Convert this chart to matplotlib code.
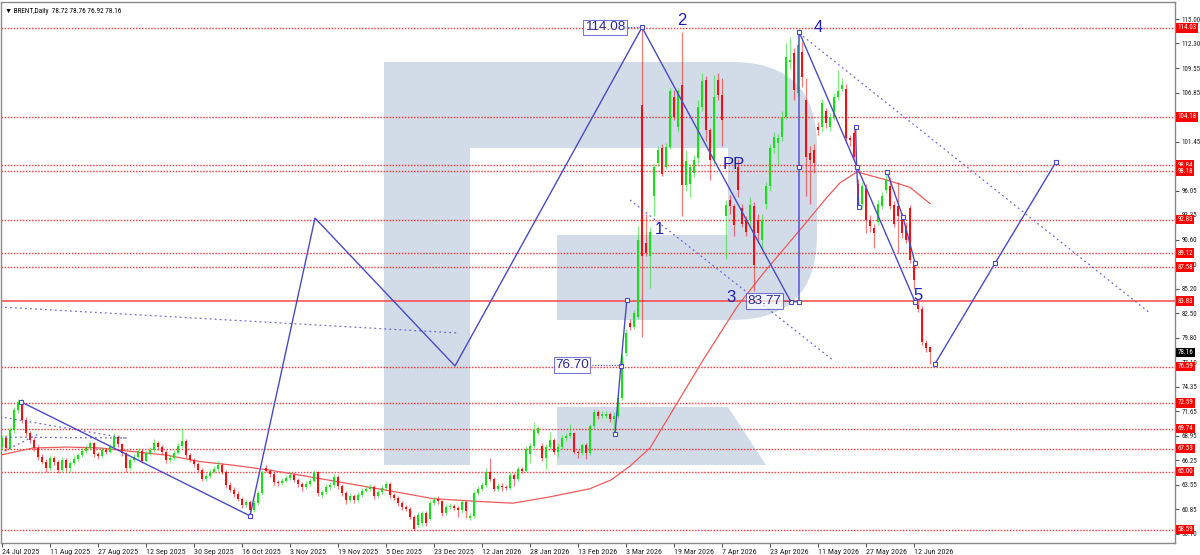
import numpy as np
import matplotlib
matplotlib.use('Agg')
import matplotlib.pyplot as plt
from matplotlib.patches import Rectangle, FancyBboxPatch, Polygon
import matplotlib.transforms as mtransforms

# ---------------- data (daily BRENT candles, bar index 0 = 24 Jul 2025) ----------------
opens = [
 67.7, 68.7, 67.6, 69.6, 71.8, 72.7, 70.7, 69.2, 68.5, 67.6,
 66.6, 66.1, 65.4, 66.5, 66.0, 65.2, 66.3, 65.4, 65.9, 66.4,
 66.8, 67.3, 67.6, 68.1, 66.9, 66.7, 67.4, 67.2, 67.7, 68.8,
 68.0, 67.0, 65.4, 66.3, 66.6, 67.3, 66.2, 67.0, 67.4, 68.2,
 67.7, 67.2, 66.3, 66.5, 67.1, 67.8, 68.4, 66.8, 66.3, 65.8,
 65.2, 64.2, 64.5, 65.0, 65.3, 65.7, 65.0, 63.5, 63.0, 62.5,
 62.0, 61.3, 61.6, 60.7, 61.5, 62.6, 65.4, 65.1, 64.7, 63.8,
 63.7, 64.0, 64.3, 64.6, 64.1, 63.6, 63.3, 63.6, 64.0, 64.9,
 62.4, 62.7, 63.3, 63.5, 64.4, 63.4, 62.6, 61.8, 62.3, 61.8,
 62.4, 62.9, 63.1, 63.3, 62.3, 62.7, 63.2, 63.6, 62.4, 62.1,
 61.5, 61.1, 60.9, 60.0, 59.1, 59.3, 60.4, 59.8, 61.5, 62.0,
 61.7, 60.4, 61.1, 61.2, 61.0, 60.7, 61.6, 59.9, 60.1, 62.6,
 63.1, 63.5, 65.0, 64.2, 63.1, 63.4, 63.3, 63.2, 64.6, 64.2,
 65.3, 65.1, 66.9, 67.8, 69.3, 67.8, 66.5, 67.7, 68.5, 67.2,
 67.7, 68.7, 68.9, 69.2, 67.2, 67.0, 67.9, 67.0, 70.0, 71.6,
 71.1, 71.1, 71.4, 70.8, 71.1, 73.1, 78.1, 81.4, 81.0, 82.1,
 105.5, 90.2, 88.8, 95.4, 99.1, 100.7, 98.7, 100.9, 106.4, 103.1,
 107.7, 96.7, 96.8, 98.0, 99.6, 105.3, 108.3, 102.7, 99.4, 108.3,
 106.6, 93.2, 95.0, 94.3, 98.7, 94.1, 92.8, 92.8, 94.3, 92.8,
 90.6, 94.6, 96.5, 100.7, 101.3, 102.0, 104.2, 110.3, 111.2, 106.8,
 111.4, 106.0, 100.2, 100.5, 103.1, 103.1, 104.8, 103.1, 104.2, 106.4,
 107.3, 107.3, 101.8, 102.4, 96.8, 94.6, 96.3, 92.8, 91.9, 92.6,
 94.3, 96.1, 96.5, 94.4, 94.3, 93.2, 92.1, 94.1, 88.0, 83.4,
 83.0, 79.2, 78.72]
highs = [
 69.0, 69.0, 69.9, 72.1, 73.0, 73.0, 71.0, 69.5, 68.8, 67.9,
 66.9, 66.4, 66.8, 66.7, 66.3, 66.6, 66.5, 66.2, 66.7, 67.1,
 67.6, 67.9, 68.4, 68.3, 67.2, 67.7, 67.6, 68.0, 69.2, 69.0,
 68.2, 67.2, 66.5, 66.9, 67.6, 67.5, 67.3, 67.7, 68.6, 68.4,
 67.9, 67.4, 66.8, 67.4, 68.1, 69.8, 68.6, 67.0, 66.5, 66.0,
 65.4, 64.8, 65.3, 65.6, 66.2, 65.9, 65.2, 63.8, 63.3, 62.8,
 62.2, 61.9, 61.8, 61.8, 62.9, 65.2, 65.7, 65.3, 64.9, 64.1,
 64.3, 64.6, 65.0, 64.8, 64.3, 63.8, 63.9, 64.3, 65.2, 65.1,
 63.0, 63.6, 63.8, 64.7, 64.6, 63.6, 62.8, 62.6, 62.5, 62.7,
 63.2, 63.4, 63.6, 63.5, 63.0, 63.5, 64.0, 63.8, 62.6, 62.3,
 61.7, 61.3, 61.1, 60.2, 60.5, 60.6, 60.6, 61.8, 62.2, 62.3,
 61.9, 61.4, 61.5, 61.4, 61.2, 61.9, 61.8, 60.4, 62.9, 63.4,
 63.8, 65.4, 66.5, 64.4, 63.7, 63.7, 63.5, 64.9, 64.8, 65.6,
 65.5, 67.8, 68.1, 70.5, 70.0, 68.1, 68.0, 69.4, 68.7, 68.1,
 69.0, 69.2, 70.3, 69.4, 67.4, 68.2, 68.1, 70.2, 71.9, 71.8,
 71.7, 71.7, 71.6, 71.6, 73.4, 78.1, 80.8, 81.8, 82.8, 92.1,
 114.08, 93.5, 92.0, 99.0, 101.0, 101.2, 101.3, 107.4, 107.2, 107.4,
 113.6, 100.5, 99.0, 100.0, 106.0, 109.0, 108.7, 103.0, 108.8, 109.0,
 108.5, 95.0, 95.6, 94.6, 99.5, 94.6, 93.2, 95.3, 94.8, 93.5,
 93.5, 97.0, 101.2, 102.5, 102.3, 104.8, 112.3, 113.0, 111.8, 113.9,
 112.5, 108.5, 101.0, 101.2, 103.6, 106.2, 105.2, 104.6, 106.8, 109.4,
 108.5, 107.8, 102.2, 102.9, 97.3, 97.0, 96.8, 93.3, 92.4, 95.0,
 95.9, 98.1, 97.5, 94.9, 97.0, 93.6, 92.6, 94.5, 88.4, 83.8,
 83.3, 79.5, 78.76]
lows = [
 67.4, 67.3, 67.4, 69.3, 71.5, 70.4, 68.9, 68.2, 67.3, 66.3,
 65.8, 65.0, 65.2, 65.7, 64.8, 65.0, 65.1, 65.0, 65.7, 66.2,
 66.6, 67.1, 67.4, 66.6, 66.4, 66.5, 66.9, 67.0, 67.5, 67.7,
 66.7, 65.0, 65.2, 66.1, 66.4, 65.9, 66.0, 66.8, 67.2, 67.4,
 66.9, 65.9, 66.0, 66.3, 66.9, 67.6, 66.5, 66.0, 65.5, 64.9,
 63.9, 64.0, 64.3, 64.8, 65.1, 64.7, 63.2, 62.7, 62.2, 61.7,
 61.0, 61.1, 60.2, 60.5, 61.3, 62.4, 64.9, 64.4, 63.5, 63.4,
 63.5, 63.8, 64.1, 63.8, 63.3, 62.8, 63.1, 63.4, 63.8, 62.3,
 62.1, 62.5, 63.0, 63.3, 63.1, 62.3, 61.4, 61.6, 61.5, 61.6,
 62.2, 62.7, 62.9, 62.0, 62.1, 62.5, 63.0, 62.1, 61.8, 61.2,
 60.8, 60.6, 59.7, 58.5, 58.9, 59.0, 59.0, 59.6, 61.3, 61.4,
 60.1, 60.2, 60.9, 60.7, 60.0, 60.4, 59.9, 59.6, 59.9, 62.4,
 62.9, 63.3, 63.9, 62.8, 62.9, 62.8, 63.0, 63.0, 63.4, 64.0,
 64.8, 64.9, 65.9, 67.6, 69.0, 66.2, 65.3, 67.5, 66.9, 66.6,
 67.5, 68.4, 68.7, 66.9, 66.5, 66.8, 66.4, 66.8, 69.8, 70.8,
 70.9, 70.9, 70.5, 69.2, 70.9, 72.9, 77.8, 80.6, 80.8, 81.9,
 79.9, 88.8, 85.3, 93.2, 98.8, 97.6, 98.4, 100.6, 103.8, 102.5,
 93.2, 96.0, 95.3, 97.5, 99.0, 104.8, 101.5, 97.2, 99.0, 106.0,
 101.0, 88.5, 93.5, 91.0, 95.3, 92.0, 91.0, 92.0, 85.0, 90.3,
 89.5, 94.0, 96.0, 100.2, 99.0, 101.5, 104.0, 109.5, 106.0, 106.5,
 107.5, 95.4, 94.6, 98.0, 102.2, 102.5, 103.0, 102.6, 103.8, 106.0,
 107.0, 101.3, 101.0, 99.5, 94.0, 94.0, 91.3, 91.5, 89.7, 92.2,
 94.0, 95.8, 94.0, 92.0, 89.1, 90.8, 90.2, 88.0, 85.2, 82.6,
 79.0, 78.2, 76.92]
closes = [
 68.7, 67.6, 69.6, 71.8, 72.7, 70.7, 69.2, 68.5, 67.6, 66.6,
 66.1, 65.4, 66.5, 66.0, 65.2, 66.3, 65.4, 65.9, 66.4, 66.8,
 67.3, 67.6, 68.1, 66.9, 66.7, 67.4, 67.2, 67.7, 68.8, 68.0,
 67.0, 65.4, 66.3, 66.6, 67.3, 66.2, 67.0, 67.4, 68.2, 67.7,
 67.2, 66.3, 66.5, 67.1, 67.8, 68.4, 66.8, 66.3, 65.8, 65.2,
 64.2, 64.5, 65.0, 65.3, 65.7, 65.0, 63.5, 63.0, 62.5, 62.0,
 61.3, 61.6, 60.7, 61.5, 62.6, 64.9, 65.1, 64.7, 63.8, 63.7,
 64.0, 64.3, 64.6, 64.1, 63.6, 63.3, 63.6, 64.0, 64.9, 62.6,
 62.7, 63.3, 63.5, 64.4, 63.4, 62.6, 61.8, 62.3, 61.8, 62.4,
 62.9, 63.1, 63.3, 62.3, 62.7, 63.2, 63.6, 62.4, 62.1, 61.5,
 61.1, 60.9, 60.0, 58.7, 60.2, 60.4, 59.3, 61.5, 61.9, 61.7,
 60.4, 61.1, 61.2, 61.0, 60.7, 61.6, 60.6, 60.1, 62.6, 63.1,
 63.5, 65.0, 64.2, 63.1, 63.4, 63.3, 63.2, 64.6, 64.2, 65.3,
 65.1, 67.5, 67.8, 69.6, 69.8, 66.5, 67.7, 68.5, 67.2, 67.7,
 68.7, 68.9, 69.2, 67.2, 67.0, 67.9, 67.0, 70.0, 71.6, 71.1,
 71.4, 71.4, 70.8, 71.1, 73.1, 77.8, 80.3, 81.0, 82.5, 90.6,
 88.8, 89.1, 91.5, 98.7, 100.5, 97.9, 100.9, 107.0, 104.2, 107.0,
 96.7, 99.3, 98.7, 99.4, 105.3, 108.1, 102.7, 99.4, 106.4, 106.6,
 103.8, 94.5, 94.3, 92.2, 96.1, 92.4, 91.5, 94.4, 87.8, 91.3,
 92.8, 96.5, 100.7, 102.0, 101.8, 104.2, 110.8, 110.5, 107.2, 112.1,
 108.6, 99.8, 99.4, 99.1, 102.7, 105.7, 103.5, 104.2, 106.4, 107.0,
 107.7, 101.8, 101.6, 99.8, 94.3, 96.5, 92.8, 92.1, 91.3, 94.6,
 95.4, 97.2, 94.3, 92.4, 93.2, 91.3, 90.6, 88.4, 86.2, 83.0,
 79.3, 78.6, 78.16]

date_labels = ['24 Jul 2025', '11 Aug 2025', '27 Aug 2025', '12 Sep 2025', '30 Sep 2025',
               '16 Oct 2025', '3 Nov 2025', '19 Nov 2025', '5 Dec 2025', '23 Dec 2025',
               '12 Jan 2026', '28 Jan 2026', '13 Feb 2026', '3 Mar 2026', '19 Mar 2026',
               '7 Apr 2026', '23 Apr 2026', '11 May 2026', '27 May 2026', '12 Jun 2026']
date_label_bars = [0, 12, 24, 36, 48, 60, 72, 84, 96, 108, 120, 132, 144, 156, 168, 180, 192, 204, 216, 228]

price_ticks = [115.00, 112.30, 109.55, 106.85, 104.10, 101.45, 98.70, 96.05, 93.35, 90.60, 87.90,
               85.20, 82.50, 79.80, 77.10, 74.35, 71.65, 68.95, 66.25, 63.55, 60.85, 58.10]
hidden_tick_labels = [104.10, 98.70]   # fully covered by level labels in the reference
levels = [114.03, 104.18, 98.84, 98.18, 92.83, 89.12, 87.58, 83.83, 76.59, 72.59, 69.74, 67.53, 65.00, 58.59]
last_price = 78.16
header = '\u25BC BRENT,Daily  78.72 78.76 76.92 78.16'

# moving average
ma_bars = [-0.5, 7.75, 16.25, 24.5, 32.75, 41.25, 49.5, 57.75, 66.25, 74.5, 95.25, 107.75, 118.75,
           127.75, 137, 147, 152.4, 157, 162, 175.25, 183.75, 190.5, 199.5, 206.25, 209.5, 213.75,
           221.25, 227, 232]
ma_vals = [66.8, 67.6, 67.7, 67.6, 67.2, 66.8, 66.1, 65.7, 65.2, 64.6, 63.0, 62.0, 61.7,
           61.5, 62.2, 63.1, 64.1, 65.6, 67.6, 77.3, 83.2, 87.0, 91.7, 95.3, 96.9, 98.1,
           97.2, 96.4, 94.6]

# wave / analysis lines (bar index, price)
waveA_bars = [4.75, 62]
waveA_prices = [72.7, 60.1]
zz_bars = [62, 78.25, 113.25, 160, 197.2, 199.25, 199.25, 228.25]
zz_prices = [60.1, 93.0, 76.66, 114.08, 83.77, 83.77, 113.6, 83.77]
leg_bars = [153.25, 154.7, 156.2]
leg_prices = [69.1, 76.66, 83.9]
proj_bars = [233.25, 248.25, 263.5]
proj_prices = [76.9, 88.0, 99.2]
sub1_bars = [213.4, 213.65, 214.2]
sub1_prices = [103.1, 98.7, 94.26]
sub2_bars = [221.25, 225.2, 228.25]
sub2_prices = [98.13, 93.15, 88.07]
dotted_lines = [
    ([-0.5, 114.0], [83.18, 80.3]),
    ([157.0, 207.75], [95.0, 77.3]),
    ([199.25, 287.0], [113.45, 82.5]),
    ([-0.5, 31.2], [71.05, 68.66]),
    ([-0.5, 31.2], [68.8, 68.7]),
    ([-0.5, 9.5], [67.0, 69.25]),
]
wave_labels = ['1', '2', '3', '4', '5', 'PP']
wave_label_bars = [164.25, 170.0, 182.25, 204.0, 229.0, 183.0]
wave_label_prices = [91.7, 114.8, 84.2, 114.1, 84.5, 98.9]
box_labels = ['114.08', '83.77', '76.70']
box_bars = [150.7, 190.6, 142.5]
box_prices = [114.1, 83.83, 76.77]
box_target_bars = [160.0, 197.2, 154.7]

# ---------------- styling ----------------
GREEN = '#18E018'
RED = '#F41010'
BLUE = '#4A4AC8'
TXTBLUE = '#1E1EB4'
WM = '#D2DCE8'
SMALL = ['Liberation Sans Narrow', 'Roboto Condensed', 'DejaVu Sans Condensed', 'Liberation Sans', 'DejaVu Sans']
ARIAL = ['Liberation Sans', 'DejaVu Sans']

fig = plt.figure(figsize=(12, 5.55), dpi=100)
renderer = fig.canvas.get_renderer()


def fit_size(sample, target_px, family, base=10.0):
    t = fig.text(0, 0, sample, fontsize=base, family=family)
    w = t.get_window_extent(renderer=renderer).width
    t.remove()
    return base * target_px / w


FS_DATE = fit_size('24 Jul 2025', 37, SMALL)
FS_PRICE = fit_size('115.00', 19, SMALL)
FS_HEAD = fit_size(header, 116, SMALL)
FS_BOX = fit_size('114.08', 40, ARIAL)

# background layer in pixel coordinates (watermark)
bg = fig.add_axes([0, 0, 1, 1])
bg.set_xlim(0, 1200)
bg.set_ylim(555, 0)
bg.axis('off')
bg.set_zorder(0)
bg.add_patch(FancyBboxPatch((384, 62), 817 - 384, 320 - 62,
                            boxstyle='round,pad=0,rounding_size=85', fc=WM, ec='none'))
bg.add_patch(Rectangle((384, 62), 86, 465 - 62, fc=WM, ec='none'))
bg.add_patch(Rectangle((470, 148), 728 - 470, 235 - 148, fc='white', ec='none'))
bg.add_patch(Rectangle((470, 235), 557 - 470, 320 - 235 + 1, fc='white', ec='none'))
bg.add_patch(Polygon([(557, 407), (728, 407), (766, 465), (557, 465)], closed=True, fc=WM, ec='none'))

ax = fig.add_axes([1 / 1200, 12 / 555, 1174 / 1200, 541 / 555])
ax.set_zorder(1)
ax.patch.set_alpha(0)
ax.set_xlim(-0.25, 293.25)
ax.set_ylim(57.10, 116.88)

# header
ax.text(0.0035, 0.988, header, transform=ax.transAxes, fontsize=FS_HEAD, family=SMALL,
        va='top', ha='left', color='black', zorder=12)

# horizontal levels
for lv in levels:
    if abs(lv - 83.83) < 1e-6:
        ax.axhline(lv, color='#FF3030', lw=1.3, alpha=0.75, zorder=2)
    else:
        ax.axhline(lv, color='#FF2020', lw=1.0, ls=(0, (1.1, 1.1)), alpha=0.85, zorder=2)

# moving average
ax.plot(ma_bars, ma_vals, color='#F05A5A', lw=0.9, zorder=3)

# candles
o = np.array(opens); h = np.array(highs); l = np.array(lows); c = np.array(closes)
idx = np.arange(len(c))
cols = np.where(c >= o, GREEN, RED)
ax.vlines(idx, l, h, colors=cols, lw=0.9, alpha=0.55, zorder=4)
ax.bar(idx, np.maximum(np.abs(c - o), 0.12), bottom=np.minimum(o, c), width=0.72,
       color=cols, linewidth=0, zorder=5)

# analysis lines
for xs, ys in dotted_lines:
    ax.plot(xs, ys, color=BLUE, lw=0.9, ls=(0, (1.5, 2.5)), alpha=0.8, zorder=6)
ax.plot(waveA_bars, waveA_prices, color=BLUE, lw=1.0, zorder=6)
ax.plot(zz_bars, zz_prices, color=BLUE, lw=1.0, zorder=6)
ax.plot(leg_bars, leg_prices, color=BLUE, lw=1.0, zorder=6)
ax.plot(proj_bars, proj_prices, color=BLUE, lw=1.0, zorder=6)
ax.plot(sub1_bars, sub1_prices, color=BLUE, lw=1.0, zorder=6)
ax.plot(sub2_bars, sub2_prices, color=BLUE, lw=1.0, zorder=6)
mk = dict(ls='none', marker='s', ms=3, mfc='white', mec=BLUE, mew=0.8, zorder=7)
ax.plot(waveA_bars, waveA_prices, **mk)
ax.plot([zz_bars[0], zz_bars[3], zz_bars[4], zz_bars[5], zz_bars[6], zz_bars[7], 199.25],
        [zz_prices[0], zz_prices[3], zz_prices[4], zz_prices[5], zz_prices[6], zz_prices[7], 98.7], **mk)
ax.plot(leg_bars, leg_prices, **mk)
ax.plot(proj_bars, proj_prices, **mk)
ax.plot(sub1_bars, sub1_prices, **mk)
ax.plot(sub2_bars, sub2_prices, **mk)

for t, xb, yp in zip(wave_labels, wave_label_bars, wave_label_prices):
    ax.text(xb, yp, t, fontsize=12, color=TXTBLUE, family=ARIAL,
            ha='center', va='center', zorder=9)

for t, xb, yp, xt in zip(box_labels, box_bars, box_prices, box_target_bars):
    ax.plot([xb + 5, xt], [yp, yp], color=BLUE, lw=0.8, ls=(0, (1, 1.5)), zorder=7)
    ax.text(xb, yp, t, fontsize=FS_BOX, color='#2A2A90', family=ARIAL,
            ha='center', va='center', zorder=9,
            bbox=dict(boxstyle='square,pad=0.12', fc='white', ec=BLUE, lw=0.8, alpha=0.75))

# axes styling
for sp in ax.spines.values():
    sp.set_color('#8A8A8A')
    sp.set_linewidth(1.0)
ax.yaxis.tick_right()
ax.set_yticks(price_ticks)
ax.set_yticklabels(['' if v in hidden_tick_labels else f'{v:.2f}' for v in price_ticks], family=SMALL)
ax.tick_params(axis='y', direction='out', length=3, width=0.8, pad=1.5, labelsize=FS_PRICE,
               color='#555555', labelcolor='#222222')
ax.set_xticks(date_label_bars)
ax.set_xticklabels(date_labels, ha='left', family=SMALL)
ax.tick_params(axis='x', direction='out', length=3, width=0.8, pad=1.5, labelsize=FS_DATE,
               color='#555555', labelcolor='#222222')

trans = mtransforms.blended_transform_factory(ax.transAxes, ax.transData)
for lv in levels:
    ax.text(1.0022, lv, f'{lv:.2f}', transform=trans, fontsize=FS_PRICE, family=SMALL, color='white',
            va='center', ha='left', clip_on=False, zorder=20,
            bbox=dict(boxstyle='square,pad=0.18', fc='#FF0000', ec='none'))
ax.text(1.0022, last_price, f'{last_price:.2f}', transform=trans, fontsize=FS_PRICE, family=SMALL,
        color='white', va='center', ha='left', clip_on=False, zorder=20,
        bbox=dict(boxstyle='square,pad=0.18', fc='black', ec='none'))

fig.savefig('out.png', dpi=100)
